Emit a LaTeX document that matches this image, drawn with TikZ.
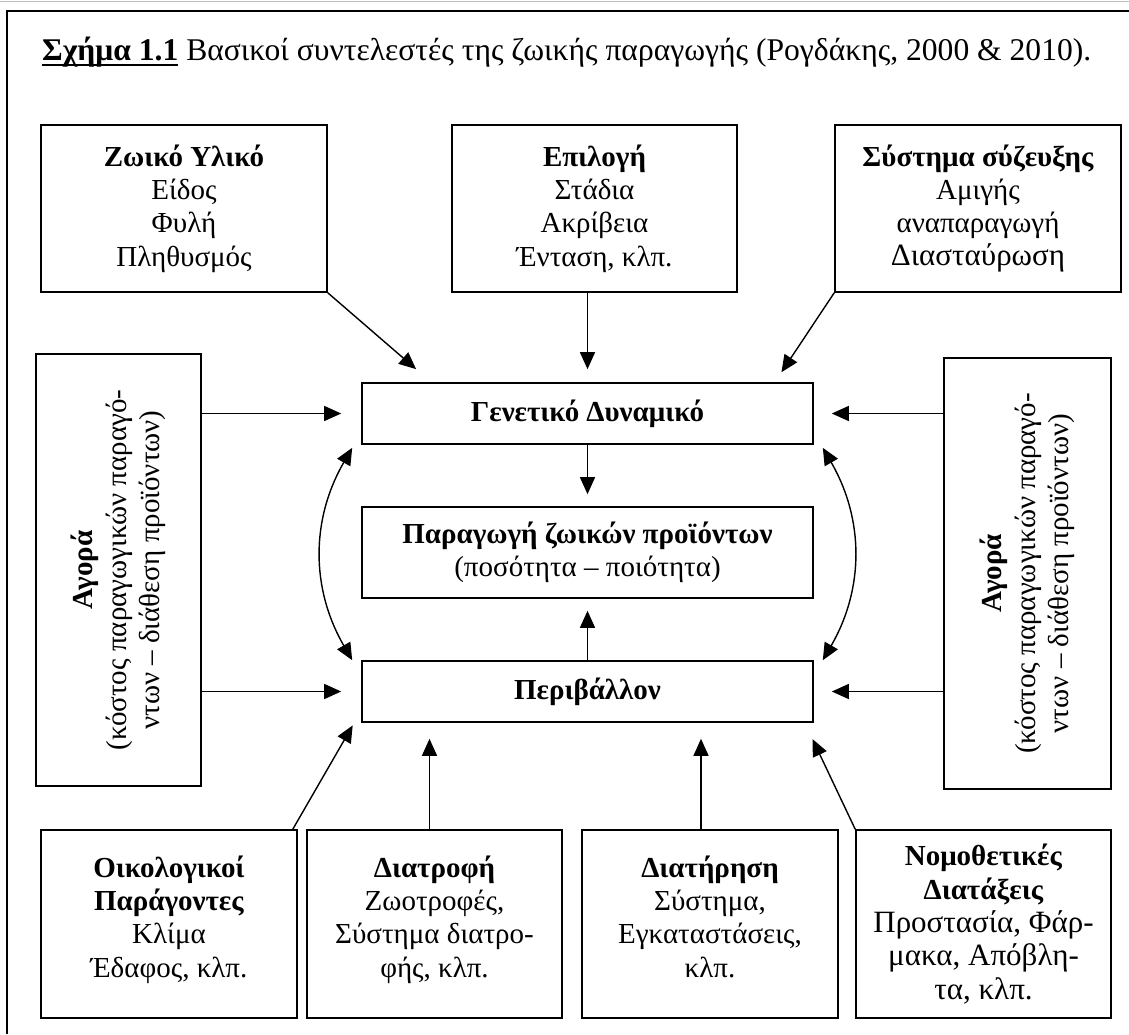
\documentclass[tikz,border=0pt]{standalone}
\usepackage{fontspec}
\setmainfont{Liberation Serif}
\usetikzlibrary{arrows.meta}

\newcommand\boxfont{\fontsize{29}{33.3}\selectfont}
\newcommand\bigfont{\fontsize{31}{35}\selectfont}
\newcommand\figul[1]{\setbox0\hbox{#1}\rlap{\rule[-6pt]{\wd0}{2.5pt}}\box0\relax}

\tikzset{
	box/.style={draw, line width=1.6pt, align=center, inner sep=0pt, font=\boxfont},
	arr/.style={line width=1.4pt, -{Triangle[length=17pt,width=15pt]}},
	arrs/.style={line width=1.4pt, {Triangle[length=17pt,width=15pt]}-{Triangle[length=17pt,width=15pt]}}
}

\begin{document}
\begin{tikzpicture}[x=1pt,y=-1pt]
		\useasboundingbox (0,0) rectangle (1129,1034);
		\draw[gray!50, line width=0.8pt] (0,1) -- (1129,1);
		\draw[line width=1.6pt] (1129,11) -- (7,11) -- (7,1034);
		\node[anchor=base west, inner sep=0pt, font=\fontsize{31.6}{36}\selectfont] (title) at (42,60)
			{\figul{\textbf{Σχήμα 1.1}} Βασικοί συντελεστές της ζωικής παραγωγής (Ρογδάκης, 2000 \& 2010).};

		\node[box, minimum width=286pt, minimum height=167pt] (zy) at (184,208.5)
			{\textbf{Ζωικό Υλικό}\\Είδος\\Φυλή\\Πληθυσμός};
		\node[box, minimum width=285pt, minimum height=167pt] (epi) at (594.5,208.5)
			{\textbf{Επιλογή}\\Στάδια\\Ακρίβεια\\Ένταση, κλπ.};
		\node[box, minimum width=286pt, minimum height=167pt] (ss) at (978,208.5)
			{\textbf{Σύστημα σύζευξης}\\Αμιγής\\αναπαραγωγή\\{\bigfont Διασταύρωση}};

		\node[box, minimum width=451pt, minimum height=61pt] (gen) at (587.5,413.5) {\textbf{Γενετικό Δυναμικό}};
		\node[box, minimum width=451pt, minimum height=91pt] (prod) at (587.5,552.5)
			{\textbf{Παραγωγή ζωικών προϊόντων}\\(ποσότητα – ποιότητα)};
		\node[box, minimum width=451pt, minimum height=61pt] (env) at (587.5,691.5) {\textbf{Περιβάλλον}};

		\node[box, rotate=90, minimum width=432pt, minimum height=165pt] (agoraL) at (118.5,570)
			{\textbf{Αγορά}\\(κόστος παραγωγικών παραγό-\\ντων – διάθεση προϊόντων)};
		\node[box, rotate=90, minimum width=431pt, minimum height=167pt] (agoraR) at (1027.5,573.5)
			{\textbf{Αγορά}\\(κόστος παραγωγικών παραγό-\\ντων – διάθεση προϊόντων)};

		\node[box, minimum width=256pt, minimum height=188pt] (oik) at (169,924)
			{\textbf{Οικολογικοί}\\\textbf{Παράγοντες}\\Κλίμα\\Έδαφος, κλπ.\\[-18pt]\mbox{}};
		\node[box, minimum width=255pt, minimum height=188pt] (diatrofi) at (434.5,924)
			{\textbf{Διατροφή}\\Ζωοτροφές,\\Σύστημα διατρο-\\φής, κλπ.\\[-18pt]\mbox{}};
		\node[box, minimum width=256pt, minimum height=188pt] (diatirisi) at (710,924)
			{\textbf{Διατήρηση}\\Σύστημα,\\Εγκαταστάσεις,\\κλπ.\\[-18pt]\mbox{}};
		\node[box, minimum width=255pt, minimum height=188pt] (nomo) at (983.5,924)
			{\textbf{Νομοθετικές}\\\textbf{Διατάξεις}\\{\bigfont Προστασία, Φάρ-}\\{\bigfont μακα, Απόβλη-}\\{\bigfont τα, κλπ.}};

		\draw[arr, shorten >=20pt] (zy.south east) -- ([xshift=70pt]gen.north west);
		\draw[arr, shorten >=13pt] (gen.north |- epi.south) -- (gen.north);
		\draw[arr, shorten >=12pt] (ss.south west) -- ([xshift=-39pt]gen.north east);
		\foreach \n in {gen,env}{
			\draw[arr, shorten >=20pt] (agoraL.south |- \n.west) -- (\n.west);
			\draw[arr, shorten >=18pt] (agoraR.north |- \n.east) -- (\n.east);
		}
		\draw[arr, shorten >=12pt] (gen.south) -- (prod.north);
		\draw[arr, shorten >=12pt] (env.north) -- (prod.south);
		\draw[arrs] ([shift={(-9,3)}]gen.south west) to[bend right=30] ([xshift=-9pt]env.north west);
		\draw[arrs] ([shift={(9,3)}]gen.south east) to[bend left=30] ([xshift=9pt]env.north east);

		\draw[arr, shorten >=3pt] ([xshift=-5pt]oik.north east) -- ([xshift=-7pt]env.south west);
		\draw[arr, shorten >=16pt] ([xshift=-5pt]diatrofi.north) -- ([xshift=-5pt]diatrofi.north |- env.south);
		\draw[arr, shorten >=16pt] ([xshift=-9pt]diatirisi.north) -- ([xshift=-9pt]diatirisi.north |- env.south);
		\draw[arr, shorten >=18pt] (nomo.north west) -- ([xshift=-9pt]env.south east);
\end{tikzpicture}
\end{document}
